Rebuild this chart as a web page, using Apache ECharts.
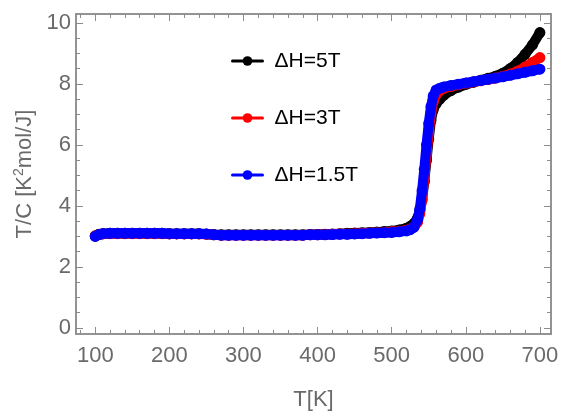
<!DOCTYPE html>
<html>
<head>
<meta charset="utf-8">
<script src="https://cdn.jsdelivr.net/npm/echarts@6/dist/echarts.min.js"></script>
<style>html,body{margin:0;padding:0;background:#fff;}#c{width:563px;height:416px;}</style>
</head>
<body>
<div id="c"></div>
<script>
// Temperatures (K)
const tempK = [100,105,110,120,130,140,150,160,170,180,190,200,210,220,230,240,250,260,270,280,290,300,310,320,330,340,350,360,370,380,390,400,410,420,430,440,450,460,470,480,490,500,510,520,525,530,535,538,541,544,547,550,553,556,560,565,570,580,590,600,610,620,630,640,650,660,670,680,690,700];
// T/C for each field change
const h5T  = [3.02,3.07,3.09,3.1,3.1,3.1,3.1,3.1,3.1,3.1,3.1,3.09,3.09,3.09,3.09,3.09,3.08,3.06,3.05,3.05,3.05,3.05,3.05,3.05,3.05,3.05,3.05,3.05,3.05,3.05,3.06,3.06,3.07,3.08,3.09,3.1,3.11,3.12,3.13,3.14,3.16,3.18,3.21,3.27,3.33,3.42,3.6,3.85,4.2,4.8,5.5,6.2,6.8,7.15,7.35,7.5,7.62,7.78,7.89,7.98,8.05,8.12,8.18,8.25,8.35,8.5,8.7,8.97,9.28,9.68];
const h3T  = [3.01,3.06,3.08,3.09,3.09,3.09,3.09,3.09,3.09,3.09,3.09,3.08,3.08,3.08,3.08,3.08,3.07,3.05,3.04,3.04,3.04,3.04,3.04,3.04,3.04,3.04,3.04,3.04,3.04,3.04,3.05,3.05,3.06,3.07,3.08,3.08,3.09,3.1,3.11,3.12,3.13,3.15,3.17,3.2,3.24,3.3,3.47,3.75,4.2,4.9,5.7,6.4,7.0,7.4,7.65,7.78,7.85,7.92,7.97,8.02,8.06,8.1,8.14,8.19,8.25,8.32,8.42,8.55,8.7,8.86];
const h15T = [3.0,3.06,3.09,3.1,3.1,3.1,3.1,3.1,3.1,3.1,3.1,3.09,3.09,3.09,3.09,3.09,3.08,3.05,3.04,3.04,3.04,3.04,3.04,3.04,3.04,3.04,3.04,3.04,3.04,3.04,3.05,3.05,3.05,3.06,3.07,3.07,3.08,3.09,3.1,3.11,3.12,3.13,3.15,3.18,3.22,3.3,3.55,3.9,4.5,5.2,6.0,6.7,7.25,7.6,7.8,7.86,7.9,7.95,7.99,8.03,8.07,8.11,8.15,8.19,8.23,8.28,8.33,8.38,8.43,8.48];
const seriesNames = ['ΔH=5T','ΔH=3T','ΔH=1.5T'];
const seriesColors = ['#000000','#ff0000','#0000ff'];
const xMajor = [100,200,300,400,500,600,700];
const xMinor = [80,120,140,160,180,220,240,260,280,320,340,360,380,420,440,460,480,520,540,560,580,620,640,660,680];
const yMajor = [0,2,4,6,8,10];
const yMinor = [0.5,1,1.5,2.5,3,3.5,4.5,5,5.5,6.5,7,7.5,8.5,9,9.5];

const frame = '#8c8c8c';
const labelColor = '#6a6a6a';
const font = 'Liberation Sans, Arial, sans-serif';
const X_MIN = 74, X_MAX = 715, Y_MIN = -0.2, Y_MAX = 10.29;

function xAx(pos, ticks, len, labels) {
  return {
    type: 'value', position: pos, min: X_MIN, max: X_MAX,
    axisLine: {show: true, onZero: false, lineStyle: {color: frame, width: 1.5}},
    axisTick: {show: true, inside: true, length: len, customValues: ticks, lineStyle: {color: frame, width: 1}},
    axisLabel: labels ? {show: true, customValues: xMajor, fontSize: 22, color: labelColor, fontFamily: font, margin: 11} : {show: false},
    splitLine: {show: false}
  };
}
function yAx(pos, ticks, len, labels) {
  return {
    type: 'value', position: pos, min: Y_MIN, max: Y_MAX,
    axisLine: {show: true, onZero: false, lineStyle: {color: frame, width: 1.5}},
    axisTick: {show: true, inside: true, length: len, customValues: ticks, lineStyle: {color: frame, width: 1}},
    axisLabel: labels ? {show: true, customValues: yMajor, fontSize: 22, color: labelColor, fontFamily: font, margin: 5} : {show: false},
    splitLine: {show: false}
  };
}

const xAxes = [xAx('bottom', xMajor, 7, true), xAx('bottom', xMinor, 4, false), xAx('top', xMajor, 7, false), xAx('top', xMinor, 4, false)];
xAxes[0].name = 'T[K]';
xAxes[0].nameLocation = 'middle';
xAxes[0].nameGap = 55;
xAxes[0].nameTextStyle = {fontSize: 22, color: labelColor, fontFamily: font};
const yAxes = [yAx('left', yMajor, 7, true), yAx('left', yMinor, 4, false), yAx('right', yMajor, 7, false), yAx('right', yMinor, 4, false)];
yAxes[0].name = 'T/C [K{sup|2}mol/J]';
yAxes[0].nameLocation = 'middle';
yAxes[0].nameGap = 38;
yAxes[0].nameTextStyle = {fontSize: 22, color: labelColor, fontFamily: font, rich: {sup: {fontSize: 14, color: labelColor, fontFamily: font, verticalAlign: 'top', padding: [0,0,10,0]}}};

const dataSets = [h5T, h3T, h15T];
const series = dataSets.map((vals, i) => ({
  name: seriesNames[i], type: 'line', xAxisIndex: 0, yAxisIndex: 0,
  data: tempK.map((t, k) => [t, vals[k]]),
  symbol: 'circle', symbolSize: 11, showSymbol: true,
  itemStyle: {color: seriesColors[i]},
  lineStyle: {color: seriesColors[i], width: 10, cap: 'round', join: 'round'},
  animation: false, z: 2 + i
}));

const chart = echarts.init(document.getElementById('c'), null, {renderer: 'canvas'});
chart.setOption({
  backgroundColor: '#fff',
  animation: false,
  grid: {left: 76, right: 12, top: 14, bottom: 73, containLabel: false},
  xAxis: xAxes,
  yAxis: yAxes,
  legend: {
    orient: 'vertical', left: 231, top: 50, padding: 0, itemWidth: 30, itemHeight: 12, itemGap: 35,
    data: seriesNames,
    lineStyle: {width: 3},
    textStyle: {fontSize: 21, color: '#000', fontFamily: font, lineHeight: 22, padding: [0,0,0,7]}
  },
  series: series
});
</script>
</body>
</html>
